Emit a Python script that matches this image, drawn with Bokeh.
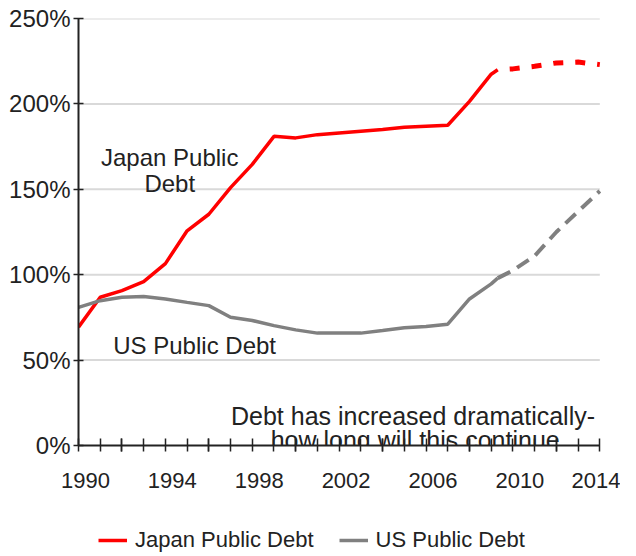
from bokeh.plotting import figure
from bokeh.layouts import column
from bokeh.models import (Range1d, LinearAxis, SingleIntervalTicker, FixedTicker, Legend,
                          LegendItem, Label, PrintfTickFormatter, CustomJSTickFormatter)
from bokeh.embed import file_html
from bokeh.resources import INLINE

# ---- data ----
years = [1990, 1991, 1992, 1993, 1994, 1995, 1996, 1997, 1998, 1999,
         2000, 2001, 2002, 2003, 2004, 2005, 2006, 2007, 2008, 2009, 2009.3]
japan_debt = [69.3, 86.8, 90.7, 95.9, 106.5, 125.7, 135.4, 151.0, 164.6, 181.0,
              180.1, 182.0, 183.0, 184.0, 185.0, 186.3, 186.9, 187.5, 201.5, 217.4, 220.0]
us_debt = [80.9, 84.8, 86.8, 87.2, 85.8, 83.8, 81.9, 75.1, 73.2, 70.2,
           67.7, 65.8, 65.8, 65.8, 67.3, 68.9, 69.7, 71.0, 85.8, 94.6, 98.0]

proj_years = [2009.3, 2010, 2011, 2012, 2013, 2014]
japan_proj = [220.0, 220.5, 222.0, 224.0, 224.5, 223.0]
us_proj = [98.0, 102.5, 111.0, 125.0, 137.0, 149.0]

y_ticks = [0, 50, 100, 150, 200, 250]
grid_values = [50, 100, 150, 200, 250]
x_label_ticks = [1990, 1994, 1998, 2002, 2006, 2010, 2014]
X0, X1 = 1990, 2014
series_names = ["Japan Public Debt", "US Public Debt"]

FONT = "Liberation Sans"
TXT = "#222222"
RED = "#ff0000"
GREY = "#808080"
NAN = float("nan")

p = figure(width=620, height=500, x_range=Range1d(X0, X1 + 0.4), y_range=Range1d(0, 250),
           x_axis_type=None, y_axis_type=None, output_backend="svg", toolbar_location=None,
           min_border_left=78, min_border_right=12, min_border_top=18, min_border_bottom=55)
p.outline_line_color = None
p.background_fill_color = "white"
p.border_fill_color = "white"

# labels of the x axis sit slightly to the right of their ticks
p.extra_x_ranges = {"xlbl": Range1d(X0 - 0.32, X1 + 0.4 - 0.32)}

# horizontal grid lines
p.segment(x0=[X0] * len(grid_values), y0=grid_values, x1=[X1] * len(grid_values), y1=grid_values,
          line_color="#d9d9d9", line_width=2)

blank = CustomJSTickFormatter(code="return ''")

# y axis
ya = LinearAxis(ticker=FixedTicker(ticks=y_ticks), formatter=PrintfTickFormatter(format="%d%%"),
                axis_line_color=TXT, axis_line_width=2,
                major_tick_in=5, major_tick_out=5, major_tick_line_color=TXT,
                major_tick_line_width=1.5, minor_tick_line_color=None,
                major_label_text_font=FONT, major_label_text_font_size="24px",
                major_label_text_color=TXT, major_label_standoff=3)
p.add_layout(ya, "left")

# x axis: line + ticks
xa = LinearAxis(ticker=SingleIntervalTicker(interval=4, num_minor_ticks=4), formatter=blank,
                bounds=(X0, X1),
                axis_line_color=TXT, axis_line_width=2,
                major_tick_in=7, major_tick_out=6, major_tick_line_color=TXT, major_tick_line_width=1.5,
                minor_tick_in=7, minor_tick_out=6, minor_tick_line_color=TXT, minor_tick_line_width=1.5,
                major_label_standoff=0)
p.add_layout(xa, "below")
# x axis: labels
xl = LinearAxis(x_range_name="xlbl", ticker=FixedTicker(ticks=x_label_ticks),
                axis_line_color=None, major_tick_line_color=None, minor_tick_line_color=None,
                major_label_text_font=FONT, major_label_text_font_size="22px",
                major_label_text_color=TXT, major_label_standoff=15)
p.add_layout(xl, "below")

p.line(years, japan_debt, line_color=RED, line_width=3.5)
p.line(years, us_debt, line_color=GREY, line_width=3.5)
p.line(proj_years, japan_proj, line_color=RED, line_width=5,
       line_dash="10 12", line_dash_offset=10)
p.line(proj_years, us_proj, line_color=GREY, line_width=4, line_dash="14 8")

def add_label(x, y, text, align="center", size="24px"):
    p.add_layout(Label(x=x, y=y, text=text, text_align=align, text_baseline="alphabetic",
                       text_font=FONT, text_font_size=size, text_color=TXT))

add_label(1994.2, 168.4, "Japan Public")
add_label(1994.2, 153.3, "Debt")
add_label(1991.6, 58.6, "US Public Debt", align="left")
add_label(2005.4, 17.2, "Debt has increased dramatically-", size="25px")
add_label(2005.5, 3.2, "how long will this continue", size="25px")

# ---- legend strip underneath ----
lg = figure(width=620, height=54, x_range=Range1d(0, 1), y_range=Range1d(0, 1),
            x_axis_type=None, y_axis_type=None, output_backend="svg", toolbar_location=None,
            min_border=0)
lg.outline_line_color = None
r_jp = lg.line(x=[NAN, NAN], y=[NAN, NAN], line_color=RED, line_width=3.5)
r_us = lg.line(x=[NAN, NAN], y=[NAN, NAN], line_color=GREY, line_width=3.5)
legend = Legend(items=[LegendItem(label=series_names[0], renderers=[r_jp]),
                       LegendItem(label=series_names[1], renderers=[r_us])],
                orientation="horizontal", location=(20, 1),
                border_line_color=None, background_fill_alpha=0,
                label_text_font=FONT, label_text_font_size="22px", label_text_color=TXT,
                glyph_width=29, label_standoff=8, spacing=25, padding=0, margin=0)
lg.add_layout(legend)

layout = column(p, lg, spacing=0)
open("out.html", "w").write(file_html(layout, INLINE))
